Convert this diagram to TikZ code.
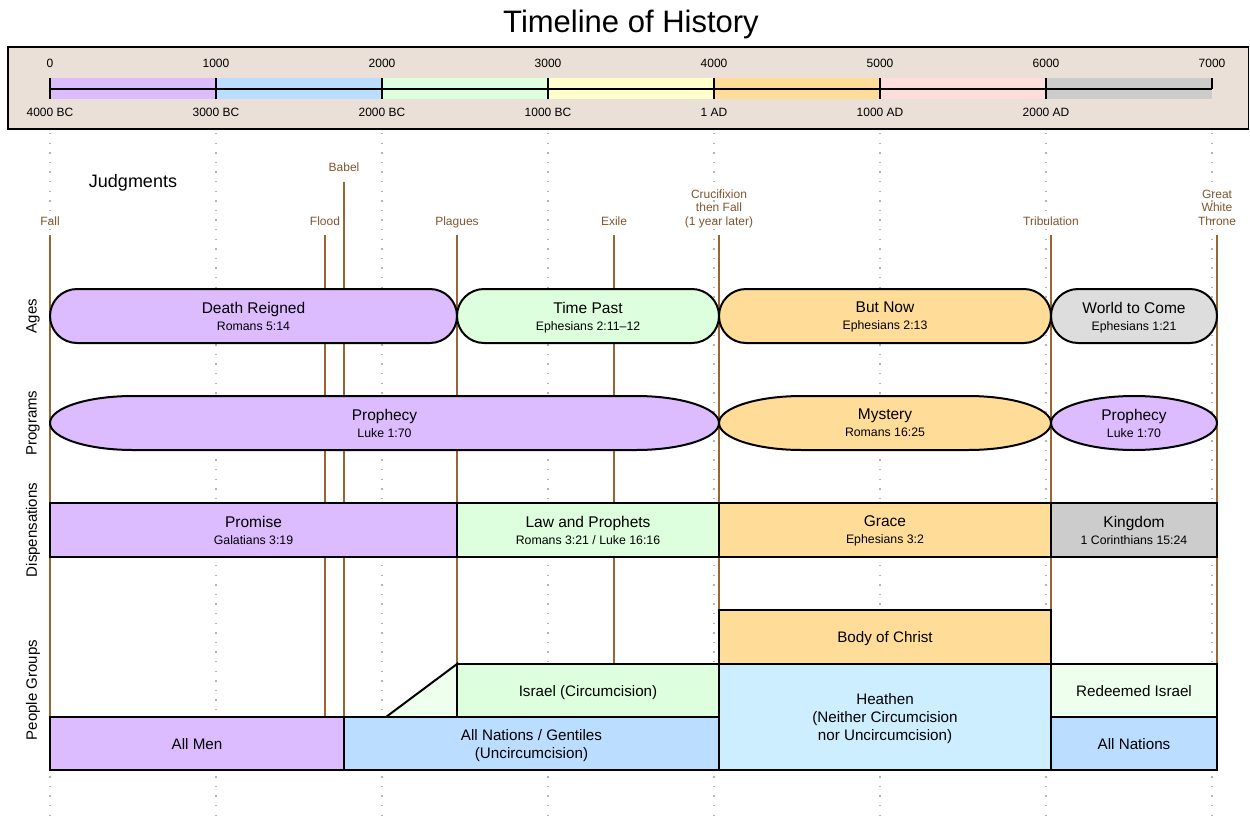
\documentclass[tikz,border=0pt]{standalone}
\usepackage{fontspec}
\setmainfont{Liberation Sans}
\usetikzlibrary{shapes.misc}
\definecolor{hdrbg}{HTML}{EAE0D7}
\definecolor{cpurple}{HTML}{DDBBFF}
\definecolor{cblue}{HTML}{BBDDFF}
\definecolor{cgreen}{HTML}{DDFFDD}
\definecolor{cyellow}{HTML}{FFFFCC}
\definecolor{corange}{HTML}{FFDD99}
\definecolor{cpink}{HTML}{FFDDDD}
\definecolor{cgray}{HTML}{CCCCCC}
\definecolor{clgray}{HTML}{DDDDDD}
\definecolor{clblue}{HTML}{CCEEFF}
\definecolor{clgreen}{HTML}{EEFFEE}
\definecolor{brownline}{HTML}{996633}
\definecolor{brownlabel}{HTML}{7F552E}
\definecolor{gridgray}{HTML}{B4B4B4}
\newcommand\bref[1]{{\fontsize{12.3}{17}\selectfont #1}}
\begin{document}
\begin{tikzpicture}[x=1pt,y=-1pt,
  axislab/.style={font=\fontsize{12}{14}\selectfont, inner sep=0pt},
  judglab/.style={font=\fontsize{12}{13.5}\selectfont, text=brownlabel, align=center, inner sep=0pt, anchor=north},
  judgline/.style={draw=brownline, line width=2pt},
  gridline/.style={draw=gridgray, line width=1.3pt, dash pattern=on 1.3pt off 8.3pt},
  rowlab/.style={rotate=90, font=\fontsize{15}{17}\selectfont, inner sep=0pt},
  mainlab/.style={font=\fontsize{15.5}{17}\selectfont, align=center, inner sep=0pt, text depth=0pt},
  stadium/.style={draw=black, line width=2pt, rounded rectangle, minimum height=54pt, inner sep=0pt, align=center, text depth=0pt, font=\fontsize{15.5}{17}\selectfont},
  progshape/.style={draw=black, line width=2pt},
  rowbox/.style={draw=black, line width=2pt, rectangle, inner sep=0pt, align=center, text depth=0pt, font=\fontsize{15.2}{18}\selectfont},
]
\useasboundingbox (0,0) rectangle (1250,822);
% title
\node[font=\fontsize{31}{34}\selectfont, inner sep=0pt] (title) at (631,24) {Timeline of History};
% header
\draw[fill=hdrbg, line width=1.5pt] (8,47) rectangle (1248.5,129);
\fill[cpurple] (50,78) rectangle (216,99);
\fill[cblue] (216,78) rectangle (382,99);
\fill[cgreen] (382,78) rectangle (548,99);
\fill[cyellow] (548,78) rectangle (714,99);
\fill[corange] (714,78) rectangle (880,99);
\fill[cpink] (880,78) rectangle (1046,99);
\fill[cgray] (1046,78) rectangle (1212,99);
\draw[line width=2pt] (50,88.5) -- (1212,88.5);
\foreach \x in {50,216,382,548,714,880,1046} \draw[line width=2pt] (\x,78) -- (\x,99);
\draw[line width=2pt] (1212,78) -- (1212,88.5);
\node[axislab] (t0) at (50,63) {0};
\node[axislab] (t1) at (216,63) {1000};
\node[axislab] (t2) at (382,63) {2000};
\node[axislab] (t3) at (548,63) {3000};
\node[axislab] (t4) at (714,63) {4000};
\node[axislab] (t5) at (880,63) {5000};
\node[axislab] (t6) at (1046,63) {6000};
\node[axislab] (t7) at (1212,63) {7000};
\node[axislab] (d0) at (50,112) {4000 BC};
\node[axislab] (d1) at (216,112) {3000 BC};
\node[axislab] (d2) at (382,112) {2000 BC};
\node[axislab] (d3) at (548,112) {1000 BC};
\node[axislab] (d4) at (714,112) {1 AD};
\node[axislab] (d5) at (880,112) {1000 AD};
\node[axislab] (d6) at (1046,112) {2000 AD};
% grid
\foreach \x in {50,216,382,548,714,880,1046,1212} \draw[gridline] (\x,133) -- (\x,822);
% judgments
\node[font=\fontsize{18}{20}\selectfont, inner sep=0pt] (judg) at (133,182.5) {Judgments};
\foreach \x/\t in {50/235,325/235,344/182,457/235,614/235,719/235,1051/235,1217/235}
  \draw[judgline] (\x,\t) -- (\x,770);
\node[judglab] (jfall) at (50,216.5) {Fall};
\node[judglab] (jflood) at (325,216.5) {Flood};
\node[judglab] (jbabel) at (344,162.5) {Babel};
\node[judglab] (jplagues) at (457,216.5) {Plagues};
\node[judglab] (jexile) at (614,216.5) {Exile};
\node[judglab] (jcruc) at (719,189.5) {Crucifixion\\then Fall\\(1 year later)};
\node[judglab] (jtrib) at (1051,216.5) {Tribulation};
\node[judglab] (jgwt) at (1217,189.5) {Great\\White\\Throne};
% row labels
\node[rowlab] (rAges) at (33,316) {Ages};
\node[rowlab] (rProg) at (33,423) {Programs};
\node[rowlab] (rDisp) at (33,530) {Dispensations};
\node[rowlab] (rPeople) at (33,690) {People Groups};
% ages
\node[stadium, fill=cpurple, minimum width=407pt] (ageA) at (253.5,316) {Death Reigned\\\bref{Romans 5:14}};
\node[stadium, fill=cgreen, minimum width=262pt] (ageB) at (588,316) {Time Past\\\bref{Ephesians 2:11–12}};
\node[stadium, fill=corange, minimum width=332pt] (ageC) at (885,316) {But Now\\\bref{Ephesians 2:13}};
\node[stadium, fill=clgray, minimum width=166pt] (ageD) at (1134,316) {World to Come\\\bref{Ephesians 1:21}};
% programs
\draw[progshape, fill=cpurple] (133,396) -- (636,396) arc[start angle=-90, end angle=90, x radius=83, y radius=27] -- (133,450) arc[start angle=90, end angle=270, x radius=83, y radius=27] -- cycle;
\draw[progshape, fill=corange] (802,396) -- (968,396) arc[start angle=-90, end angle=90, x radius=83, y radius=27] -- (802,450) arc[start angle=90, end angle=270, x radius=83, y radius=27] -- cycle;
\draw[progshape, fill=cpurple] (1134,423) ellipse [x radius=83, y radius=27];
\node[mainlab] (progA) at (384.5,423) {Prophecy\\\bref{Luke 1:70}};
\node[mainlab] (progB) at (885,423) {Mystery\\\bref{Romans 16:25}};
\node[mainlab] (progC) at (1134,423) {Prophecy\\\bref{Luke 1:70}};
% dispensations
\node[rowbox, fill=cpurple, minimum width=407pt, minimum height=54pt, font=\fontsize{15.5}{17}\selectfont] (dispA) at (253.5,530) {Promise\\\bref{Galatians 3:19}};
\node[rowbox, fill=cgreen, minimum width=262pt, minimum height=54pt, font=\fontsize{15.5}{17}\selectfont] (dispB) at (588,530) {Law and Prophets\\\bref{Romans 3:21 / Luke 16:16}};
\node[rowbox, fill=corange, minimum width=332pt, minimum height=54pt, font=\fontsize{15.5}{17}\selectfont] (dispC) at (885,530) {Grace\\\bref{Ephesians 3:2}};
\node[rowbox, fill=cgray, minimum width=166pt, minimum height=54pt, font=\fontsize{15.5}{17}\selectfont] (dispD) at (1134,530) {Kingdom\\\bref{1 Corinthians 15:24}};
% people groups
\draw[line width=2pt, fill=clgreen] (386,717) -- (457,664) -- (457,717) -- cycle;
\node[rowbox, fill=corange, minimum width=332pt, minimum height=54pt] (bodyc) at (885,637) {Body of Christ};
\node[rowbox, fill=cgreen, minimum width=262pt, minimum height=53pt] (israel) at (588,690.5) {Israel (Circumcision)};
\node[rowbox, fill=clblue, minimum width=332pt, minimum height=106pt] (heathen) at (885,717) {Heathen\\(Neither Circumcision\\nor Uncircumcision)};
\node[rowbox, fill=clgreen, minimum width=166pt, minimum height=53pt] (redeemed) at (1134,690.5) {Redeemed Israel};
\node[rowbox, fill=cpurple, minimum width=294pt, minimum height=53pt] (allmen) at (197,743.5) {All Men};
\node[rowbox, fill=cblue, minimum width=375pt, minimum height=53pt] (gentiles) at (531.5,743.5) {All Nations / Gentiles\\(Uncircumcision)};
\node[rowbox, fill=cblue, minimum width=166pt, minimum height=53pt] (allnations) at (1134,743.5) {All Nations};
\end{tikzpicture}
\end{document}
